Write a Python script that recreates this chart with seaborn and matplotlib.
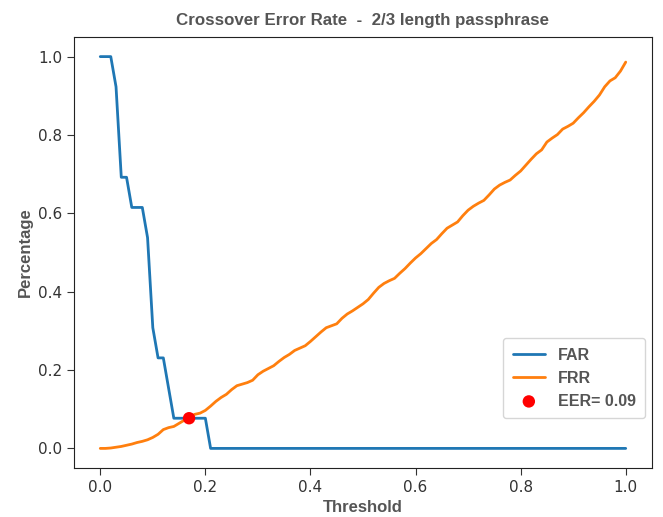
import numpy as np
import pandas as pd
import matplotlib
matplotlib.use("Agg")
import matplotlib.pyplot as plt
import seaborn as sns

# thresholds 0.00 .. 1.00 in steps of 0.01
thresholds = [round(i / 100, 2) for i in range(101)]

# false acceptance rate (steps of 1/13)
far = [1.0, 1.0, 1.0, 0.923, 0.692, 0.692, 0.615, 0.615, 0.615, 0.538,
       0.308, 0.231, 0.231, 0.154, 0.077, 0.077, 0.077, 0.077, 0.077, 0.077,
       0.077] + [0.0] * 80

# false rejection rate
frr = [0.000, 0.000, 0.001, 0.003, 0.005, 0.008, 0.011, 0.015, 0.018, 0.022,
       0.028, 0.036, 0.048, 0.053, 0.056, 0.064, 0.072, 0.080, 0.087, 0.090,
       0.097, 0.108, 0.120, 0.130, 0.138, 0.150, 0.160, 0.164, 0.168, 0.174,
       0.188, 0.197, 0.204, 0.211, 0.222, 0.232, 0.240, 0.250, 0.256, 0.262,
       0.273, 0.285, 0.297, 0.308, 0.313, 0.318, 0.332, 0.343, 0.351, 0.360,
       0.369, 0.380, 0.396, 0.411, 0.421, 0.428, 0.434, 0.447, 0.459, 0.473,
       0.486, 0.497, 0.510, 0.523, 0.533, 0.548, 0.562, 0.570, 0.578, 0.594,
       0.608, 0.618, 0.626, 0.633, 0.647, 0.662, 0.672, 0.679, 0.685, 0.697,
       0.708, 0.723, 0.738, 0.752, 0.762, 0.782, 0.792, 0.801, 0.815, 0.822,
       0.830, 0.844, 0.857, 0.872, 0.886, 0.902, 0.923, 0.938, 0.946, 0.963,
       0.986]

eer_x = [0.169]
eer_y = [0.077]
eer_label = "EER= 0.09"

df = pd.DataFrame({"threshold": thresholds, "FAR": far, "FRR": frr})

sns.set_style("ticks")
label_font = {"family": ["Liberation Sans", "DejaVu Sans"], "weight": "bold", "color": "#555555"}

fig = plt.figure(figsize=(6.63, 5.17), dpi=100)
ax = fig.add_axes([0.1116, 0.0948, 0.8718, 0.8336])

sns.lineplot(data=df, x="threshold", y="FAR", ax=ax, color="#1f77b4", linewidth=2, label="FAR")
sns.lineplot(data=df, x="threshold", y="FRR", ax=ax, color="#ff7f0e", linewidth=2, label="FRR")
sns.scatterplot(x=eer_x, y=eer_y, ax=ax, color="red", s=80, edgecolor="none", label=eer_label, zorder=5)

ax.set_title("Crossover Error Rate  -  2/3 length passphrase", fontdict=dict(label_font, size=12.2), pad=9)
ax.set_xlabel("Threshold", fontdict=dict(label_font, size=12))
ax.set_ylabel("Percentage", fontdict=dict(label_font, size=12))
ax.set_xlim(-0.05, 1.05)
ax.set_ylim(-0.05, 1.05)
ax.set_xticks([0.0, 0.2, 0.4, 0.6, 0.8, 1.0])
ax.set_yticks([0.0, 0.2, 0.4, 0.6, 0.8, 1.0])
ax.tick_params(labelsize=11, colors="#333333", length=5)
for lab in ax.get_xticklabels() + ax.get_yticklabels():
    lab.set_family("DejaVu Sans")
for s in ax.spines.values():
    s.set_color("#222222")

leg = ax.legend(loc="lower right", bbox_to_anchor=(1.002, 0.097), frameon=True,
                prop={"family": ["Liberation Sans", "DejaVu Sans"], "weight": "bold", "size": 11.5},
                handlelength=2.0, borderpad=0.6, labelspacing=0.5)
for t in leg.get_texts():
    t.set_color("#555555")

plt.savefig("out.png", dpi=100)
